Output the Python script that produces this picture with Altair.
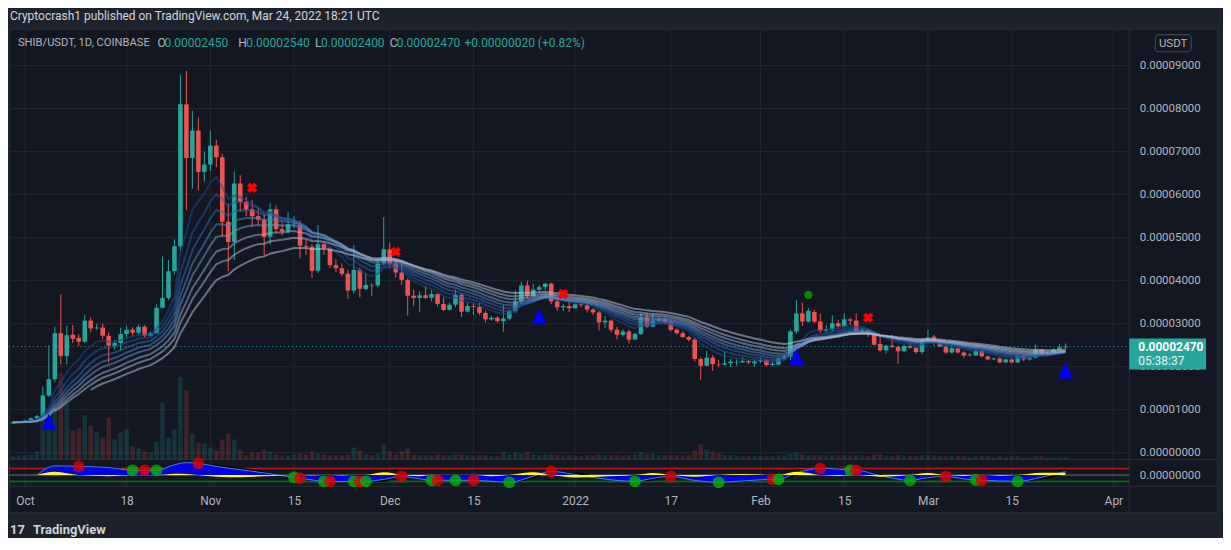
import altair as alt
import pandas as pd

# ---------------- values (prices in units of 1e-5 USDT) ----------------
# daily candles, first candle 2021-09-29 (= 2 days before 2021-10-01), last 2022-03-24
open_ = [
    0.68, 0.71, 0.72, 0.75, 0.80,
    0.85, 1.33, 1.71, 2.78, 2.25,
    2.74, 2.67, 2.58, 3.07, 2.89,
    2.91, 2.72, 2.49, 2.55, 2.76,
    2.86, 2.79, 2.93, 2.72, 2.78,
    3.37, 3.60, 4.22, 4.80, 8.10,
    6.85, 7.49, 6.53, 6.70, 7.14,
    6.87, 5.37, 4.90, 6.26, 5.83,
    5.66, 5.50, 5.42, 5.02, 5.66,
    5.20, 5.14, 5.31, 5.33, 4.81,
    4.79, 4.23, 4.85, 4.75, 4.36,
    4.29, 4.16, 3.77, 4.25, 3.81,
    3.90, 3.89, 4.40, 4.73, 4.40,
    4.19, 4.02, 3.65, 3.60, 3.66,
    3.60, 3.69, 3.46, 3.32, 3.44,
    3.67, 3.28, 3.41, 3.39, 3.25,
    3.10, 3.14, 3.06, 3.12, 3.29,
    3.52, 3.89, 3.64, 3.79, 3.85,
    3.93, 3.52, 3.38, 3.41, 3.36,
    3.45, 3.43, 3.33, 3.26, 3.03,
    3.07, 2.86, 2.74, 2.82, 2.63,
    2.76, 3.14, 2.93, 3.07, 3.10,
    3.03, 2.86, 2.78, 2.69, 2.63,
    2.18, 2.02, 2.21, 2.06, 2.05,
    2.08, 2.10, 2.10, 2.13, 2.08,
    2.12, 2.15, 2.04, 2.05, 2.19,
    2.24, 2.82, 3.24, 3.05, 3.27,
    3.05, 2.84, 2.87, 3.01, 2.94,
    3.10, 3.07, 2.82, 2.84, 2.75,
    2.53, 2.38, 2.49, 2.46, 2.36,
    2.48, 2.44, 2.34, 2.63, 2.70,
    2.59, 2.47, 2.33, 2.43, 2.33,
    2.26, 2.26, 2.37, 2.24, 2.17,
    2.19, 2.10, 2.17, 2.10, 2.25,
    2.17, 2.21, 2.39, 2.27, 2.31,
    2.40, 2.45,
]
high_ = [
    0.73, 0.74, 0.77, 0.82, 0.88,
    1.54, 2.49, 2.93, 3.68, 2.95,
    2.97, 2.75, 3.21, 3.15, 3.00,
    3.00, 2.80, 2.62, 2.91, 2.95,
    2.92, 2.98, 2.96, 2.82, 3.45,
    4.56, 4.48, 4.96, 8.79, 8.88,
    7.95, 7.80, 7.00, 7.49, 7.28,
    6.95, 5.80, 6.54, 6.45, 5.95,
    5.88, 5.70, 5.55, 5.80, 5.75,
    5.35, 5.60, 5.50, 5.40, 4.95,
    4.85, 5.29, 4.90, 4.78, 4.50,
    4.40, 4.25, 4.83, 4.30, 4.17,
    3.95, 4.52, 5.48, 4.88, 4.52,
    4.41, 4.05, 3.79, 3.75, 3.88,
    3.78, 3.70, 3.61, 3.49, 3.79,
    3.71, 3.48, 3.48, 3.48, 3.31,
    3.18, 3.17, 3.43, 3.33, 3.78,
    3.97, 4.00, 3.92, 3.90, 3.95,
    3.95, 3.55, 3.46, 3.51, 3.47,
    3.49, 3.47, 3.36, 3.30, 3.18,
    3.10, 2.93, 2.87, 2.86, 2.79,
    3.24, 3.26, 3.24, 3.16, 3.12,
    3.06, 2.89, 2.82, 2.72, 2.67,
    2.22, 2.37, 2.27, 2.16, 2.36,
    2.18, 2.17, 2.22, 2.15, 2.17,
    2.20, 2.17, 2.12, 2.22, 2.27,
    2.87, 3.55, 3.49, 3.36, 3.32,
    3.23, 2.97, 3.20, 3.09, 3.23,
    3.14, 3.24, 2.90, 2.86, 2.77,
    2.70, 2.51, 2.74, 2.49, 2.51,
    2.59, 2.46, 2.64, 2.86, 2.74,
    2.62, 2.49, 2.49, 2.45, 2.36,
    2.32, 2.47, 2.38, 2.26, 2.21,
    2.22, 2.19, 2.19, 2.26, 2.27,
    2.24, 2.52, 2.41, 2.35, 2.43,
    2.52, 2.54,
]
low_ = [
    0.67, 0.70, 0.71, 0.74, 0.78,
    0.83, 1.30, 1.65, 2.05, 2.05,
    2.55, 2.48, 2.55, 2.80, 2.85,
    2.64, 2.09, 2.40, 2.38, 2.66,
    2.72, 2.75, 2.68, 2.70, 2.76,
    3.35, 3.55, 4.15, 4.70, 5.64,
    6.14, 6.10, 6.30, 6.55, 6.64,
    5.02, 4.22, 4.48, 5.60, 5.50,
    5.25, 5.30, 4.60, 4.84, 5.10,
    5.05, 5.10, 5.22, 4.52, 4.60,
    4.06, 4.18, 4.60, 4.30, 4.20,
    4.10, 3.57, 3.70, 3.61, 3.78,
    3.64, 3.85, 4.35, 4.30, 4.07,
    3.90, 3.19, 3.41, 3.28, 3.57,
    3.52, 3.40, 3.30, 3.31, 3.38,
    3.16, 3.26, 3.20, 3.20, 3.03,
    3.07, 3.02, 2.81, 3.08, 3.25,
    3.45, 3.60, 3.62, 3.70, 3.78,
    3.45, 3.30, 3.30, 3.27, 3.35,
    3.38, 3.26, 3.20, 2.84, 2.90,
    2.80, 2.63, 2.70, 2.54, 2.63,
    2.74, 2.90, 2.92, 3.03, 2.98,
    2.82, 2.74, 2.67, 2.59, 2.12,
    1.70, 2.02, 1.90, 1.99, 2.02,
    1.99, 2.02, 2.09, 2.06, 1.99,
    2.09, 2.00, 2.01, 2.03, 2.17,
    2.16, 2.76, 2.95, 3.03, 3.01,
    2.78, 2.78, 2.82, 2.87, 2.92,
    2.97, 2.80, 2.76, 2.69, 2.51,
    2.35, 2.31, 2.43, 2.07, 2.33,
    2.42, 2.30, 2.29, 2.55, 2.49,
    2.45, 2.30, 2.30, 2.31, 2.20,
    2.24, 2.25, 2.22, 2.15, 2.15,
    2.08, 2.08, 2.08, 2.08, 2.13,
    2.14, 2.19, 2.25, 2.24, 2.28,
    2.38, 2.40,
]
close_ = [
    0.71, 0.72, 0.75, 0.80, 0.85,
    1.33, 1.71, 2.78, 2.25, 2.73,
    2.65, 2.58, 3.07, 2.89, 2.91,
    2.72, 2.49, 2.55, 2.76, 2.86,
    2.79, 2.93, 2.72, 2.78, 3.37,
    3.60, 4.22, 4.80, 8.10, 6.85,
    7.49, 6.53, 6.70, 7.14, 6.87,
    5.37, 4.90, 6.26, 5.83, 5.66,
    5.50, 5.42, 5.02, 5.66, 5.20,
    5.14, 5.31, 5.33, 4.81, 4.79,
    4.23, 4.85, 4.75, 4.36, 4.29,
    4.16, 3.77, 4.25, 3.81, 3.90,
    3.89, 4.40, 4.73, 4.40, 4.19,
    4.02, 3.65, 3.60, 3.66, 3.60,
    3.69, 3.46, 3.32, 3.44, 3.67,
    3.28, 3.41, 3.39, 3.25, 3.10,
    3.14, 3.06, 3.12, 3.29, 3.52,
    3.89, 3.64, 3.79, 3.85, 3.93,
    3.52, 3.38, 3.41, 3.36, 3.45,
    3.43, 3.33, 3.26, 3.03, 3.07,
    2.86, 2.74, 2.82, 2.63, 2.76,
    3.14, 2.93, 3.07, 3.10, 3.03,
    2.86, 2.78, 2.69, 2.63, 2.18,
    2.02, 2.21, 2.06, 2.05, 2.08,
    2.12, 2.11, 2.13, 2.10, 2.12,
    2.15, 2.04, 2.07, 2.19, 2.24,
    2.82, 3.24, 3.05, 3.30, 3.05,
    2.84, 2.87, 3.01, 2.94, 3.10,
    3.07, 2.82, 2.85, 2.75, 2.51,
    2.38, 2.49, 2.46, 2.36, 2.48,
    2.44, 2.34, 2.63, 2.68, 2.59,
    2.47, 2.33, 2.43, 2.33, 2.26,
    2.28, 2.37, 2.24, 2.17, 2.19,
    2.10, 2.17, 2.10, 2.25, 2.17,
    2.21, 2.39, 2.29, 2.31, 2.40,
    2.45, 2.47,
]
volume_ = [
    3, 3, 4, 5, 8,
    43, 47, 50, 87, 58,
    29, 31, 44, 34, 27,
    22, 42, 20, 27, 30,
    13, 11, 8, 7, 18,
    57, 22, 30, 83, 69,
    26, 17, 16, 12, 9,
    20, 26, 20, 10, 4,
    7, 7, 10, 8, 5,
    3, 4, 5, 6, 5,
    8, 6, 5, 4, 4,
    4, 5, 12, 9, 5,
    4, 6, 15, 8, 5,
    8, 11, 5, 4, 4,
    4, 5, 4, 4, 5,
    5, 4, 3, 4, 4,
    3, 3, 7, 5, 7,
    6, 7, 5, 4, 5,
    5, 4, 3, 4, 3,
    3, 4, 4, 5, 4,
    4, 4, 3, 4, 5,
    7, 5, 6, 4, 4,
    4, 4, 3, 4, 9,
    15, 10, 8, 6, 4,
    4, 3, 3, 3, 3,
    3, 3, 3, 3, 4,
    6, 7, 5, 4, 4,
    4, 3, 4, 3, 4,
    3, 4, 3, 3, 5,
    5, 3, 3, 4, 3,
    3, 3, 4, 4, 3,
    3, 3, 3, 3, 3,
    2, 3, 3, 3, 2,
    3, 2, 3, 3, 2,
    2, 3, 3, 2, 2,
    2, 2,
]
first_day_offset = -2          # first candle is 2 days before 2021-10-01
countdown = "05:38:37"

ema_spans = [8, 11, 14, 17, 20, 24, 28, 34]
ema_first_day = [-2, -2, -2, -2, -2, -2, 5, 11]
ema_colors = ["#1c4587", "#23569e", "#2d67b3", "#4a7fc1",
              "#6a95c9", "#8aa8cf", "#a2b3cc", "#b6bfcf"]

tick_dates = ["2021-10-01", "2021-10-18", "2021-11-01", "2021-11-15", "2021-12-01",
              "2021-12-15", "2022-01-01", "2022-01-17", "2022-02-01", "2022-02-15",
              "2022-03-01", "2022-03-15", "2022-04-01"]
tick_labels = ["Oct", "18", "Nov", "15", "Dec", "15", "2022", "17", "Feb", "15",
               "Mar", "15", "Apr"]
price_ticks = [0, 1, 2, 3, 4, 5, 6, 7, 8, 9]

buy_days = [4, 86, 129, 174]
buy_prices = [0.72, 3.17, 2.22, 1.91]
sell_days = [38, 62, 90, 141]
sell_prices = [6.16, 4.67, 3.69, 3.14]
dot_days = [131]
dot_prices = [3.67]

# oscillator pane (days after 2021-10-01)
osc_days = [2, 5, 9, 14, 18, 20, 22, 25, 27, 29, 32, 36, 40, 45, 46, 48, 50, 51, 53, 55,
            56, 57, 60, 63, 66, 68, 69, 72, 75, 78, 81, 85, 88, 92, 96, 102, 105, 108, 112,
            116, 120, 125, 126, 129, 133, 136, 138, 139, 143, 148, 151, 154, 157, 159, 160,
            163, 166, 170, 174]
wt1 = [0, 85, 80, 70, 43, 43, 43, 95, 115, 108, 80, 50, 20, -21, -30, -45, -58, -58, -60, -58,
       -58, -58, -40, -12, -35, -49, -49, -49, -49, -58, -67, -10, 34, 5, -30, -58, -30, -12, -50,
       -67, -55, -40, -40, 20, 62, 55, 44, 44, -5, -49, -25, -12, -35, -46, -48,
       -55, -58, -20, 32]
wt2 = [0, 55, 80, 80, 43, 43, 43, 83, 105, 108, 95, 70, 32, -21, -30, -40, -58, -58, -56, -58,
       -58, -58, -65, -12, -25, -49, -49, -49, -49, -48, -67, -35, 34, 27, -15, -58, -50, -12, -35,
       -67, -65, -40, -40, -10, 62, 63, 44, 44, 10, -49, -45, -12, -27, -46, -48,
       -49, -58, -42, 10]
vwap = [0, 30, 0, -10, 0, 0, 0, 12, 10, 0, -15, -20, -12, 0, 0, -5, 0, 0, -4, 0,
        0, 0, 25, 0, -10, 0, 0, 0, 0, -10, 0, 25, 0, -22, -15, 0, 20, 0, -15,
        0, 10, 0, 0, 30, 0, -8, 0, 0, -15, 0, 20, 0, -8, 0, 0,
        -6, 0, 22, 22]
cross_days = [9, 18, 20, 22, 29, 45, 46, 50, 51, 55, 56, 57, 63, 68, 69, 72, 75, 81, 88, 102,
              108, 116, 125, 126, 133, 138, 139, 148, 154, 159, 160, 166]
cross_vals = [80, 43, 43, 43, 108, -21, -30, -58, -58, -58, -58, -58, -12, -49, -49, -49, -49,
              -67, 34, -58, -12, -67, -40, -40, 62, 44, 44, -49, -12, -46, -49, -58]
cross_kind = ["sell", "buy"] * 16
osc_levels = [60, 0, -60]

# ---------------- styling ----------------
FONT = "Roboto"
BG = "#1e222d"
PANE = "#131722"
GRID = "#232733"
SEP = "#2a2e39"
TXT = "#b2b5be"
UP = "#26a69a"
DOWN = "#ef5350"
W, H = 1212, 485
AXIS_X = 1124          # price-axis separator (plot px)
PRICE_BOTTOM = 432     # price pane bottom
OSC_BOTTOM = 459       # oscillator pane bottom

day0 = pd.Timestamp("2021-10-01")


def iso(d):
    return (day0 + pd.Timedelta(days=int(d))).strftime("%Y-%m-%d")


n = len(close_)
dates = [iso(i + first_day_offset) for i in range(n)]
candles = pd.DataFrame({"date": dates, "o": open_, "h": high_, "l": low_, "c": close_, "v": volume_})

cs = pd.Series(close_)
rows = []
ema_names = [f"EMA {s}" for s in ema_spans]
for k, span in enumerate(ema_spans):
    e = cs.ewm(span=span, adjust=False).mean()
    for i in range(n):
        if i + first_day_offset >= ema_first_day[k]:
            rows.append({"date": dates[i], "ema": float(e[i]), "line": ema_names[k]})
ribbon = pd.DataFrame(rows)

osc = pd.DataFrame({"date": [iso(d) for d in osc_days], "wt1": wt1, "wt2": wt2, "vw": vwap})
cross = pd.DataFrame({"date": [iso(d) for d in cross_days], "v": cross_vals, "kind": cross_kind})
buys = pd.DataFrame({"date": [iso(d) for d in buy_days], "p": buy_prices})
sells = pd.DataFrame({"date": [iso(d) for d in sell_days], "p": sell_prices})
dots = pd.DataFrame({"date": [iso(d) for d in dot_days], "p": dot_prices})
last = pd.DataFrame({"p": [close_[-1]], "lbl": [f"{close_[-1] * 1e-5:.8f}"], "cd": [countdown]})
ticks_df = pd.DataFrame({"date": tick_dates})
pticks_df = pd.DataFrame({"p": price_ticks})
one = pd.DataFrame({"a": [0]})

tick_ms = [int(pd.Timestamp(d, tz="UTC").value // 10**6) for d in tick_dates]
label_expr = "".join(f"time(datum.value) == {m} ? '{lab}' : " for m, lab in zip(tick_ms, tick_labels)) + "''"

x_scale = alt.Scale(type="utc", nice=False, padding=0,
                    domain=[alt.DateTime(year=2021, month=9, date=28, hours=8, utc=True),
                            alt.DateTime(year=2022, month=4, date=18, hours=8, utc=True)])
x_axis = alt.Axis(orient="bottom", offset=-(H - OSC_BOTTOM), values=tick_ms, labelExpr=label_expr,
                  grid=False, domain=False, ticks=False, labelColor=TXT, labelFont=FONT,
                  labelFontSize=12, labelPadding=14, labelBaseline="middle", labelOverlap=False,
                  labelFlush=False, title=None)
price_scale = alt.Scale(domain=[-0.155, 9.856], range=[PRICE_BOTTOM, 0], nice=False, zero=False, padding=0)
vol_scale = alt.Scale(domain=[0, 100], range=[PRICE_BOTTOM, PRICE_BOTTOM - 100], nice=False, padding=0)
osc_scale = alt.Scale(domain=[-95, 136], range=[458, 433], nice=False, zero=False, padding=0)
price_axis = alt.Axis(orient="right", offset=AXIS_X - W, values=price_ticks,
                      labelExpr="format(datum.value * 1e-5, '.8f')", grid=False, domain=False,
                      ticks=False, labelColor=TXT, labelFont=FONT, labelFontSize=11.5,
                      labelPadding=10, title=None)
osc_axis = alt.Axis(orient="right", offset=AXIS_X - W, values=[0], format=".8f", grid=False,
                    domain=False, ticks=False, labelColor=TXT, labelFont=FONT, labelFontSize=11.5,
                    labelPadding=10, title=None)


def X():
    return alt.X("date:T", scale=x_scale, axis=x_axis)


def YP(field, axis=None):
    return alt.Y(field, type="quantitative", scale=price_scale, axis=axis)


def YO(field, axis=None):
    return alt.Y(field, type="quantitative", scale=osc_scale, axis=axis)


updown = alt.when(alt.datum.c >= alt.datum.o).then(alt.value(UP)).otherwise(alt.value(DOWN))

layers = []
# grids
layers.append(alt.Chart(ticks_df).mark_rule(color=GRID, strokeWidth=1).encode(
    x=X(), y=alt.value(0), y2=alt.value(OSC_BOTTOM)))
layers.append(alt.Chart(pticks_df).mark_rule(color=GRID, strokeWidth=1).encode(
    y=YP("p", price_axis), x=alt.value(0), x2=alt.value(AXIS_X)))
# pane separators
for yy in (PRICE_BOTTOM, OSC_BOTTOM):
    layers.append(alt.Chart(one).mark_rule(color=SEP, strokeWidth=1).encode(
        x=alt.value(0), x2=alt.value(W), y=alt.value(yy)))
layers.append(alt.Chart(one).mark_rule(color=SEP, strokeWidth=1).encode(
    x=alt.value(AXIS_X), y=alt.value(0), y2=alt.value(H)))
# oscillator levels
lev_df = pd.DataFrame({"v": osc_levels})
layers.append(alt.Chart(lev_df).transform_filter(alt.datum.v > 0).mark_rule(
    color="#b71c1c", strokeWidth=1.5).encode(y=YO("v"), x=alt.value(0), x2=alt.value(AXIS_X)))
layers.append(alt.Chart(lev_df).transform_filter(alt.datum.v < 0).mark_rule(
    color="#1b5e20", strokeWidth=2).encode(y=YO("v"), x=alt.value(0), x2=alt.value(AXIS_X)))
layers.append(alt.Chart(lev_df).transform_filter(alt.datum.v == 0).mark_rule(
    color="#6a6d78", strokeWidth=1).encode(y=YO("v", osc_axis), x=alt.value(0), x2=alt.value(AXIS_X)))
# volume
layers.append(alt.Chart(candles).mark_bar(size=4.6, opacity=0.2).encode(
    x=X(), y=alt.Y("v:Q", scale=vol_scale, axis=None), color=updown))
# candles
layers.append(alt.Chart(candles).mark_rule(strokeWidth=1).encode(
    x=X(), y=YP("l"), y2=alt.Y2("h"), color=updown))
layers.append(alt.Chart(candles).mark_bar(size=4.6).encode(
    x=X(), y=YP("o"), y2=alt.Y2("c"), color=updown))
# last price line
layers.append(alt.Chart(last).mark_rule(color=UP, strokeDash=[1, 3], strokeWidth=1).encode(
    y=YP("p"), x=alt.value(0), x2=alt.value(AXIS_X)))
# EMA ribbon
layers.append(alt.Chart(ribbon).mark_line(strokeWidth=2, opacity=0.55).encode(
    x=X(), y=YP("ema"),
    color=alt.Color("line:N", scale=alt.Scale(domain=ema_names, range=ema_colors), legend=None)))
# oscillator
layers.append(alt.Chart(osc).mark_area(color="#000000", opacity=0.9, interpolate="monotone").encode(
    x=X(), y=YO("wt2"), y2=alt.datum(0)))
layers.append(alt.Chart(osc).mark_area(color="#0000ff", opacity=0.9, interpolate="monotone").encode(
    x=X(), y=YO("wt1"), y2=alt.datum(0)))
layers.append(alt.Chart(osc).mark_line(color="#3d85e0", strokeWidth=1, interpolate="monotone").encode(
    x=X(), y=YO("wt1")))
layers.append(alt.Chart(osc).mark_area(color="#ffff00", opacity=1, interpolate="monotone").encode(
    x=X(), y=YO("vw"), y2=alt.datum(0)))
layers.append(alt.Chart(cross).mark_circle(size=140, opacity=0.8).encode(
    x=X(), y=YO("v"),
    color=alt.when(alt.datum.kind == "buy").then(alt.value("#00b400")).otherwise(alt.value("#e00000"))))
# signal markers
layers.append(alt.Chart(buys).mark_point(shape="M0,-1L-0.94,1L0.94,1Z", filled=True, size=256,
                                         color="#0000ff", opacity=1).encode(x=X(), y=YP("p")))
layers.append(alt.Chart(sells).mark_point(shape="cross", angle=45, filled=True, size=110,
                                          color="#ff0000", opacity=1).encode(x=X(), y=YP("p")))
layers.append(alt.Chart(dots).mark_circle(size=70, color="#008a00", opacity=1).encode(
    x=X(), y=YP("p")))
# last price label
layers.append(alt.Chart(last).mark_rect(color=UP, yOffset=-8, y2Offset=23).encode(
    x=alt.value(AXIS_X), x2=alt.value(AXIS_X + 77), y=YP("p"), y2=alt.Y2("p")))
layers.append(alt.Chart(last).mark_text(align="left", baseline="middle", color="#ffffff",
                                        fontWeight="bold", fontSize=12, font=FONT, dy=1).encode(
    x=alt.value(AXIS_X + 9), y=YP("p"), text="lbl:N"))
layers.append(alt.Chart(last).mark_text(align="left", baseline="middle", color="#e3f4f2",
                                        fontSize=12, font=FONT, dy=15).encode(
    x=alt.value(AXIS_X + 9), y=YP("p"), text="cd:N"))
# USDT box
layers.append(alt.Chart(one).mark_rect(fill=PANE, stroke="#4a4e59", strokeWidth=1, cornerRadius=3).encode(
    x=alt.value(1150), x2=alt.value(1186), y=alt.value(6), y2=alt.value(23)))


def text_layer(txt, x, y, color, size, weight="normal", align="left"):
    return alt.Chart(pd.DataFrame({"t": [txt]})).mark_text(
        align=align, baseline="middle", color=color, fontSize=size, fontWeight=weight, font=FONT
    ).encode(x=alt.value(x), y=alt.value(y), text="t:N")


layers.append(text_layer("USDT", 1168, 15, TXT, 11.5, align="center"))
# header & legend
layers.append(text_layer("Cryptocrash1 published on TradingView.com, Mar 24, 2022 18:21 UTC",
                         1, -13, "#d1d4dc", 12))
chg = (close_[-1] - close_[-2]) * 1e-5
pct = (close_[-1] - close_[-2]) / close_[-2] * 100
legend_parts = [
    ("SHIB/USDT, 1D, COINBASE", 9, TXT, 11.2),
    ("O", 149, TXT, 12), (f"{open_[-1] * 1e-5:.8f}", 156, UP, 12),
    ("H", 230, TXT, 12), (f"{high_[-1] * 1e-5:.8f}", 238, UP, 12),
    ("L", 307, TXT, 12), (f"{low_[-1] * 1e-5:.8f}", 313, UP, 12),
    ("C", 382, TXT, 12), (f"{close_[-1] * 1e-5:.8f}", 389, UP, 12),
    (f"{chg:+.8f} ({pct:+.2f}%)", 457, UP, 12),
]
for txt, xx, col, fs in legend_parts:
    layers.append(text_layer(txt, xx, 14, col, fs))
# bottom logo
layers.append(text_layer("17", 1, 503, "#d1d4dc", 13, weight="bold"))
layers.append(text_layer("TradingView", 24, 503, "#d1d4dc", 13, weight="bold"))

chart = alt.layer(*layers).resolve_scale(y="independent").properties(
    width=W, height=H,
    autosize=alt.AutoSizeParams(type="none"),
    padding={"left": 1, "top": 20, "right": 6, "bottom": 25},
    background=BG,
).configure_view(fill=PANE, stroke=SEP, strokeWidth=1)

chart.save("out.html", embed_options={"renderer": "svg", "actions": False})
